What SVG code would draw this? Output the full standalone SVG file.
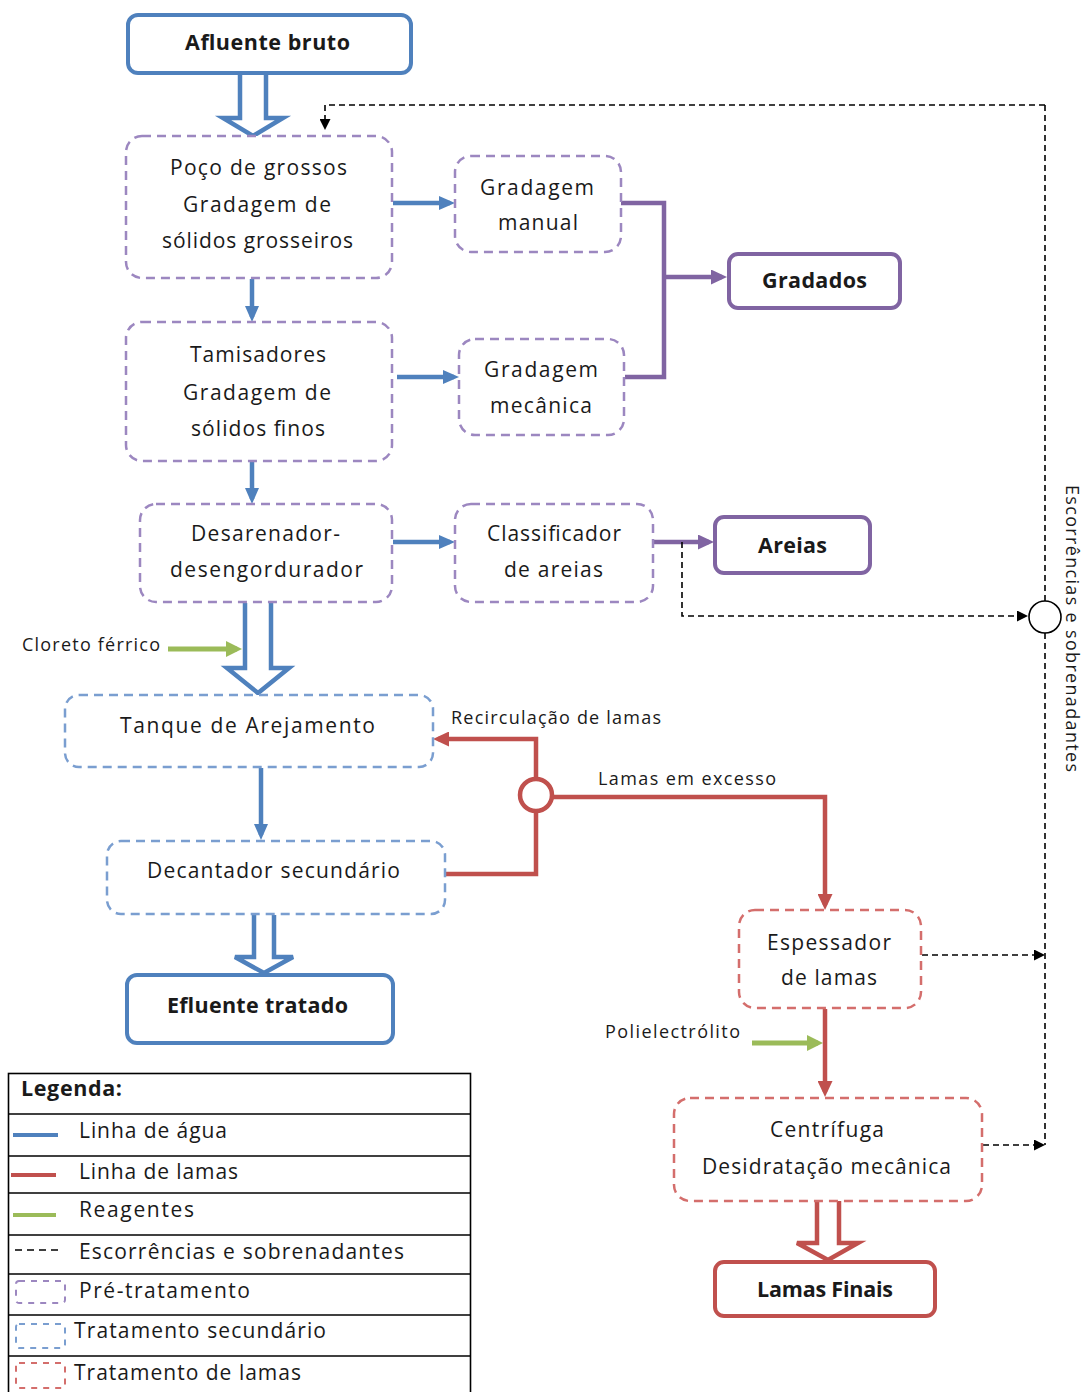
<svg xmlns="http://www.w3.org/2000/svg" width="1086" height="1392" viewBox="0 0 1086 1392">
<style>
.t{font-family:"Open Sans","Liberation Sans",sans-serif;font-size:21px;fill:#1a1a1a}
.c{text-anchor:middle}
.b{font-weight:bold;font-size:21.5px}
.s{font-size:18px}
.sb{fill:#fff;stroke-width:4}
.db{fill:#fff;stroke-width:2.5;stroke-dasharray:9 6}
.pd{stroke:#9C87C0}
.bd{stroke:#7A9ED0}
.rd{stroke:#D46E6C}
.blue{stroke:#4F81BD}
.red{stroke:#C0504D}
.purple{stroke:#8064A2}
.green{stroke:#9BBB59}
.ln{fill:none;stroke-width:4.5}
.dash{fill:none;stroke:#000;stroke-width:1.6;stroke-dasharray:6 4}
.hollow{fill:#fff;stroke:#4F81BD;stroke-width:4.5;stroke-linejoin:miter}
</style>
<defs>
<marker id="ab" markerUnits="userSpaceOnUse" markerWidth="16" markerHeight="14" refX="11" refY="7" orient="auto"><path d="M0,0 L16,7 L0,14 z" fill="#4F81BD"/></marker>
<marker id="ar" markerUnits="userSpaceOnUse" markerWidth="16" markerHeight="15" refX="11" refY="7.5" orient="auto"><path d="M0,0 L16,7.5 L0,15 z" fill="#C0504D"/></marker>
<marker id="ap" markerUnits="userSpaceOnUse" markerWidth="16" markerHeight="15" refX="11" refY="7.5" orient="auto"><path d="M0,0 L16,7.5 L0,15 z" fill="#8064A2"/></marker>
<marker id="ag" markerUnits="userSpaceOnUse" markerWidth="16" markerHeight="16" refX="11" refY="8" orient="auto"><path d="M0,0 L16,8 L0,16 z" fill="#9BBB59"/></marker>
<marker id="ak" markerUnits="userSpaceOnUse" markerWidth="11" markerHeight="11" refX="9" refY="5.5" orient="auto"><path d="M0,0 L11,5.5 L0,11 z" fill="#000"/></marker>
</defs>

<g id="connectors">
  <path class="hollow" d="M240,73 V118 H223 L253,136 L283,118 H266 V73"/>
  <path class="hollow" d="M245,603 V668 H227 L258,693 L289,668 H271 V603"/>
  <path class="hollow" d="M254,915 V957 H235 L264,973 L293,957 H274 V915"/>
  <path class="hollow" style="stroke:#C0504D" d="M817,1201 V1243 H797 L828,1260 L858,1243 H839 V1201"/>
  <line class="ln blue" x1="393" y1="203" x2="450" y2="203" marker-end="url(#ab)"/>
  <line class="ln blue" x1="252" y1="279" x2="252" y2="317" marker-end="url(#ab)"/>
  <line class="ln blue" x1="397" y1="377" x2="454" y2="377" marker-end="url(#ab)"/>
  <line class="ln blue" x1="252" y1="462" x2="252" y2="499" marker-end="url(#ab)"/>
  <line class="ln blue" x1="393" y1="542" x2="450" y2="542" marker-end="url(#ab)"/>
  <line class="ln blue" x1="261" y1="768" x2="261" y2="835" marker-end="url(#ab)"/>
  <path class="ln purple" d="M621,203 H664 V377 H625"/>
  <line class="ln purple" x1="664" y1="277" x2="722" y2="277" marker-end="url(#ap)"/>
  <line class="ln purple" x1="653" y1="542" x2="709" y2="542" marker-end="url(#ap)"/>
  <line class="ln green" x1="168" y1="649" x2="237" y2="649" marker-end="url(#ag)" style="stroke-width:5"/>
  <line class="ln green" x1="752" y1="1043" x2="818" y2="1043" marker-end="url(#ag)" style="stroke-width:5"/>
  <path class="ln red" d="M446,874 H536 V813"/>
  <path class="ln red" d="M536,777 V739 H438" marker-end="url(#ar)"/>
  <path class="ln red" d="M552,797 H825 V905" marker-end="url(#ar)"/>
  <line class="ln red" x1="825" y1="1009" x2="825" y2="1092" marker-end="url(#ar)"/>
  <circle cx="536" cy="795" r="16" fill="#fff" stroke="#C0504D" stroke-width="4.5"/>
  <path class="dash" d="M1045,105 H325 V128" marker-end="url(#ak)"/>
  <path class="dash" d="M1045,105 V601"/>
  <path class="dash" d="M1045,633 V1145"/>
  <path class="dash" d="M682,542 V616 H1026" marker-end="url(#ak)"/>
  <path class="dash" d="M922,955 H1043" marker-end="url(#ak)"/>
  <path class="dash" d="M983,1145 H1043" marker-end="url(#ak)"/>
  <circle cx="1045" cy="617" r="16" fill="#fff" stroke="#000" stroke-width="1.6"/>
  <text class="t s c" transform="translate(1066,628.5) rotate(90)" textLength="287" lengthAdjust="spacing">Escorrências e sobrenadantes</text>
  <text class="t s" x="451" y="724" textLength="210" lengthAdjust="spacing">Recirculação de lamas</text>
  <text class="t s" x="598" y="785" textLength="178" lengthAdjust="spacing">Lamas em excesso</text>
  <text class="t s" x="22" y="651" textLength="138" lengthAdjust="spacing">Cloreto férrico</text>
  <text class="t s" x="605" y="1038" textLength="135" lengthAdjust="spacing">Polielectrólito</text>
</g>

<g id="afluente">
  <rect class="sb blue" x="128" y="15" width="283" height="58" rx="10"/>
  <text class="t b c" x="267.5" y="50" textLength="165" lengthAdjust="spacing">Afluente bruto</text>
</g>
<g id="poco">
  <rect class="db pd" x="126" y="136" width="266" height="142" rx="16"/>
  <text class="t c" x="258.5" y="175" textLength="177" lengthAdjust="spacing">Poço de grossos</text>
  <text class="t c" x="257" y="212" textLength="148" lengthAdjust="spacing">Gradagem de</text>
  <text class="t c" x="257.5" y="248" textLength="191" lengthAdjust="spacing">sólidos grosseiros</text>
</g>
<g id="grad-manual">
  <rect class="db pd" x="455" y="156" width="166" height="96" rx="16"/>
  <text class="t c" x="537" y="195" textLength="114" lengthAdjust="spacing">Gradagem</text>
  <text class="t c" x="538" y="230" textLength="80" lengthAdjust="spacing">manual</text>
</g>
<g id="gradados">
  <rect class="sb purple" x="729" y="254" width="171" height="54" rx="9"/>
  <text class="t b c" x="814.5" y="288" textLength="105" lengthAdjust="spacing">Gradados</text>
</g>
<g id="tamisadores">
  <rect class="db pd" x="126" y="322" width="266" height="139" rx="16"/>
  <text class="t c" x="258" y="362" textLength="136" lengthAdjust="spacing">Tamisadores</text>
  <text class="t c" x="257" y="400" textLength="148" lengthAdjust="spacing">Gradagem de</text>
  <text class="t c" x="258" y="436" textLength="134" lengthAdjust="spacing">sólidos finos</text>
</g>
<g id="grad-mecanica">
  <rect class="db pd" x="459" y="339" width="165" height="96" rx="16"/>
  <text class="t c" x="541" y="377" textLength="114" lengthAdjust="spacing">Gradagem</text>
  <text class="t c" x="541" y="413" textLength="102" lengthAdjust="spacing">mecânica</text>
</g>
<g id="desarenador">
  <rect class="db pd" x="140" y="504" width="252" height="98" rx="16"/>
  <text class="t c" x="265.5" y="541" textLength="149" lengthAdjust="spacing">Desarenador-</text>
  <text class="t c" x="266.5" y="577" textLength="193" lengthAdjust="spacing">desengordurador</text>
</g>
<g id="classificador">
  <rect class="db pd" x="455" y="504" width="198" height="98" rx="16"/>
  <text class="t c" x="554" y="541" textLength="134" lengthAdjust="spacing">Classificador</text>
  <text class="t c" x="553.5" y="577" textLength="99" lengthAdjust="spacing">de areias</text>
</g>
<g id="areias">
  <rect class="sb purple" x="715" y="517" width="155" height="56" rx="9"/>
  <text class="t b c" x="792.5" y="553" textLength="69" lengthAdjust="spacing">Areias</text>
</g>
<g id="tanque">
  <rect class="db bd" x="65" y="695" width="368" height="72" rx="14"/>
  <text class="t c" x="247.5" y="733" textLength="255" lengthAdjust="spacing">Tanque de Arejamento</text>
</g>
<g id="decantador">
  <rect class="db bd" x="107" y="841" width="338" height="73" rx="14"/>
  <text class="t c" x="273.5" y="878" textLength="253" lengthAdjust="spacing">Decantador secundário</text>
</g>
<g id="efluente">
  <rect class="sb blue" x="127" y="975" width="266" height="68" rx="10"/>
  <text class="t b c" x="257.5" y="1013" textLength="181" lengthAdjust="spacing">Efluente tratado</text>
</g>
<g id="espessador">
  <rect class="db rd" x="739" y="910" width="182" height="98" rx="16"/>
  <text class="t c" x="829" y="950" textLength="124" lengthAdjust="spacing">Espessador</text>
  <text class="t c" x="829" y="985" textLength="96" lengthAdjust="spacing">de lamas</text>
</g>
<g id="centrifuga">
  <rect class="db rd" x="674" y="1098" width="308" height="103" rx="16"/>
  <text class="t c" x="827" y="1137" textLength="114" lengthAdjust="spacing">Centrífuga</text>
  <text class="t c" x="826.5" y="1174" textLength="249" lengthAdjust="spacing">Desidratação mecânica</text>
</g>
<g id="lamas-finais">
  <rect class="sb red" x="715" y="1262" width="220" height="54" rx="9"/>
  <text class="t b c" x="825" y="1297" textLength="136" lengthAdjust="spacing">Lamas Finais</text>
</g>

<g id="legenda">
  <rect x="8.5" y="1073.5" width="462" height="330" fill="#fff" stroke="#000" stroke-width="1.6"/>
  <g stroke="#000" stroke-width="1.6">
    <line x1="8.5" y1="1114" x2="470.5" y2="1114"/>
    <line x1="8.5" y1="1156" x2="470.5" y2="1156"/>
    <line x1="8.5" y1="1193" x2="470.5" y2="1193"/>
    <line x1="8.5" y1="1235" x2="470.5" y2="1235"/>
    <line x1="8.5" y1="1274" x2="470.5" y2="1274"/>
    <line x1="8.5" y1="1315" x2="470.5" y2="1315"/>
    <line x1="8.5" y1="1356" x2="470.5" y2="1356"/>
  </g>
  <text class="t b" x="21" y="1096" textLength="101" lengthAdjust="spacing">Legenda:</text>
  <line x1="13" y1="1135" x2="58" y2="1135" stroke="#4F81BD" stroke-width="4"/>
  <text class="t" x="79" y="1138" textLength="148" lengthAdjust="spacing">Linha de água</text>
  <line x1="11" y1="1175" x2="56" y2="1175" stroke="#C0504D" stroke-width="4"/>
  <text class="t" x="79" y="1179" textLength="159" lengthAdjust="spacing">Linha de lamas</text>
  <line x1="13" y1="1215" x2="56" y2="1215" stroke="#9BBB59" stroke-width="4"/>
  <text class="t" x="79" y="1217" textLength="115" lengthAdjust="spacing">Reagentes</text>
  <line x1="15" y1="1250" x2="60" y2="1250" stroke="#000" stroke-width="1.4" stroke-dasharray="7 5"/>
  <text class="t" x="79" y="1259" textLength="325" lengthAdjust="spacing">Escorrências e sobrenadantes</text>
  <rect x="16" y="1281" width="49" height="22" rx="3" fill="none" stroke="#9C87C0" stroke-width="2" stroke-dasharray="6 6"/>
  <text class="t" x="79" y="1298" textLength="171" lengthAdjust="spacing">Pré-tratamento</text>
  <rect x="16" y="1324" width="49" height="24" rx="3" fill="none" stroke="#7A9ED0" stroke-width="2" stroke-dasharray="6 6"/>
  <text class="t" x="74" y="1338" textLength="252" lengthAdjust="spacing">Tratamento secundário</text>
  <rect x="16" y="1363" width="49" height="25" rx="3" fill="none" stroke="#D46E6C" stroke-width="2" stroke-dasharray="6 6"/>
  <text class="t" x="74" y="1380" textLength="227" lengthAdjust="spacing">Tratamento de lamas</text>
</g>
</svg>
